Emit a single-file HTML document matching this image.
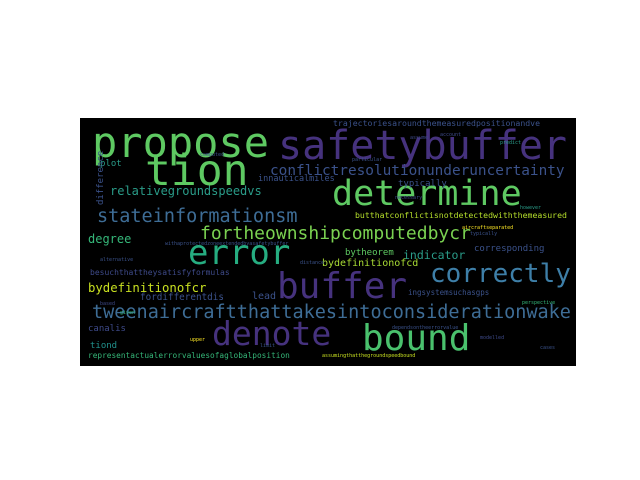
<!DOCTYPE html>
<html><head><meta charset="utf-8"><style>
body{margin:0;background:#fff;width:640px;height:480px;overflow:hidden;position:relative;font-family:"DejaVu Sans Mono","Liberation Mono",monospace}
#cloud{position:absolute;left:80px;top:118px;width:496px;height:248px;background:#000;overflow:hidden}
#cloud span{position:absolute;white-space:nowrap;line-height:1;font-family:"DejaVu Sans Mono","Liberation Mono",monospace}
</style></head><body>
<div id="cloud"></div>
<script>
const words=["propose","tion","safetybuffer","determine","error","buffer","denote","bound","correctly","tweenaircraftthattakesintoconsiderationwake","conflictresolutionunderuncertainty","stateinformationsm","fortheownshipcomputedbycr","relativegroundspeedvs","trajectoriesaroundthemeasuredpositionandve","butthatconflictisnotdetectedwiththemeasured","innauticalmiles","typically","plot","degree","besuchthattheysatisfyformulas","bydefinitionofcr","fordifferentdis","lead","canalis","tiond","representactualerrorvaluesofaglobalposition","bytheorem","indicator","corresponding","bydefinitionofcd","ingsystemsuchasgps","difference","withaprotectedzoneextendedbyasafetybuffer","assumingthatthegroundspeedbound","dependsontheerrorvalue","aircraftseparated","perspective","alternative","account","predict","particular","necessary","distance","typically","based","given","upper","limit","modelled","however","cases","computed","assume"];
const xs=[92,145,278,332,188,277,212,362,430,92,270,97,200,110,333,355,258,398,100,88,90,88,140,252,88,90,88,345,403,474,322,408,97,165,322,392,462,522,100,440,500,352,395,300,470,100,120,190,260,480,520,540,200,410];
const ys=[158,187,160,207,265,300,345,352,283,320,176,224,240,195,126,218,182,188,168,243,276,292,301,300,333,350,359,257,260,253,267,295,205,246,358,330,230,305,262,137,145,162,200,265,236,306,315,342,348,340,210,350,157,140];
const sizes=[42,43,40,35,34,36,33,36,26,18.5,14.4,18.5,18,12,8.2,8.2,8.5,9,9,12,8,12.3,9.3,10,9,9,7.8,9,11.5,9,10,7.5,9,5,5,5,5,5,5,5,5,5,5,5,5,5,5,5,5,5,5,5,5,5];
const colors=["#5ec962","#5ec962","#46327e","#5ec962","#26ad81","#46327e","#46327e","#4ac16d","#3e7fa8","#3e6d96","#3b528b","#3e6d96","#7ad151","#2a9c89","#3b528b","#b5de2b","#3b528b","#3b528b","#2a9c89","#35b779","#3e4a89","#c8e020","#3b528b","#3b528b","#3e4a89","#21918c","#35b779","#5ec962","#2a9c89","#3b528b","#a8db34","#3b528b","#3b528b","#3b528b","#c8e020","#3b528b","#fde725","#35b779","#3b528b","#3e4a89","#2a9c89","#3b528b","#3e4a89","#3b528b","#3b528b","#3e4a89","#35b779","#fde725","#3b528b","#3e4a89","#2a9c89","#3b528b","#3b528b","#3e4a89"];
const vertical=[0,0,0,0,0,0,0,0,0,0,0,0,0,0,0,0,0,0,0,0,0,0,0,0,0,0,0,0,0,0,0,0,1,0,0,0,0,0,0,0,0,0,0,0,0,0,0,0,0,0,0,0,0,0];
const cloud=document.getElementById('cloud');
words.forEach((w,i)=>{
  const s=document.createElement('span');
  s.textContent=w;
  
  
  const fs=sizes[i];
  s.style.fontSize=fs+'px';
  s.style.color=colors[i];
  if(vertical[i]){
    s.style.left=(xs[i]-80)+'px';
    s.style.top=(ys[i]-118)+'px';
    s.style.transformOrigin='0 0';
    s.style.transform='rotate(-90deg)';
  }else{
    s.style.left=(xs[i]-80)+'px';
    s.style.top=(ys[i]-118-fs*0.85)+'px';
  }
  cloud.appendChild(s);
});
</script>
</body></html>
